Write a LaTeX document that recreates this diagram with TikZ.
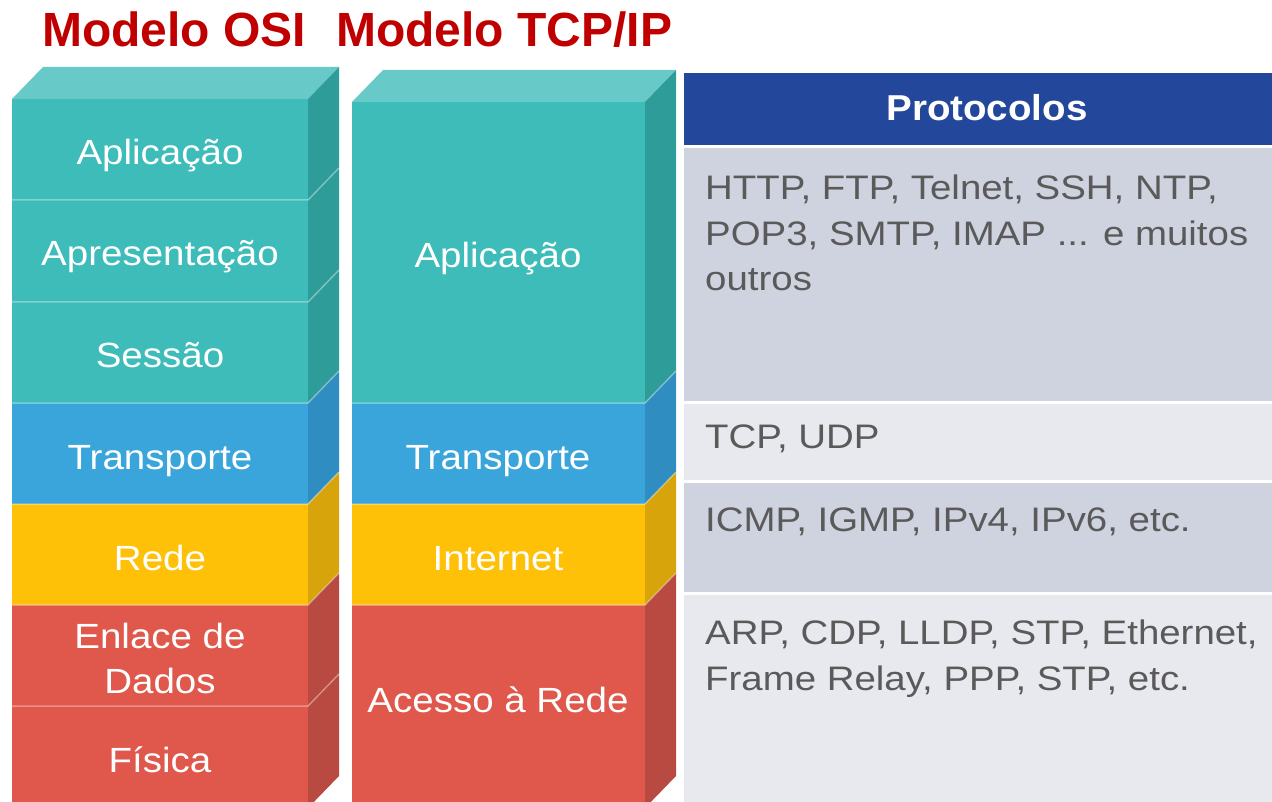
\documentclass[tikz,border=0pt]{standalone}
\usepackage{fontspec}
\setmainfont{Liberation Sans}
\newfontfamily\layerfont[FakeStretch=1.1]{Liberation Sans}
\newfontfamily\protofont[FakeStretch=1.13]{Liberation Sans}
\newfontfamily\headfont[FakeStretch=1.07]{Liberation Sans}

\definecolor{tealfront}{HTML}{3DBCBA}
\definecolor{tealtop}{HTML}{67CAC8}
\definecolor{tealside}{HTML}{2E9C99}
\definecolor{bluefront}{HTML}{3AA5DA}
\definecolor{blueside}{HTML}{2F8DC1}
\definecolor{yellowfront}{HTML}{FEC108}
\definecolor{yellowside}{HTML}{D8A40B}
\definecolor{redfront}{HTML}{E0574B}
\definecolor{redside}{HTML}{B84A42}
\definecolor{titlered}{HTML}{C00000}
\definecolor{headblue}{HTML}{23489B}
\definecolor{rowdark}{HTML}{CFD2DF}
\definecolor{rowlight}{HTML}{E8E9EE}
\definecolor{protogray}{HTML}{5A5A5A}

% depth of the 3D slabs
\def\dpx{31}
\def\dpy{32}

% one slab of a stack: left x, right x, top y, bottom y, front colour, side colour
\newcommand\stackslab[6]{%
  \fill[#5] (#1,#3) rectangle (#2,#4);
  \fill[#6] (#2,#3) -- ++(\dpx,-\dpy) -- (#2+\dpx,#4-\dpy) -- (#2,#4) -- cycle;
}
% top face of a stack: left x, right x, top y, colour
\newcommand\stacktop[4]{%
  \fill[#4] (#1,#3) -- ++(\dpx,-\dpy) -- (#2+\dpx,#3-\dpy) -- (#2,#3) -- cycle;
}
% thin light seam between two slabs: left x, right x, y
\newcommand\stackseam[3]{%
  \draw[seam] (#1,#3) -- (#2,#3) -- ++(\dpx,-\dpy);
}

\tikzset{
  seam/.style={white, opacity=0.35, line width=1.5pt},
  title/.style={text=titlered, font=\bfseries\fontsize{48}{52}\selectfont, anchor=base west, inner sep=0},
  layer/.style={text=white, font=\layerfont\fontsize{35}{45}\selectfont, anchor=base, inner sep=0, align=center},
  layertwo/.style={text=white, font=\layerfont\fontsize{35}{45}\selectfont, anchor=north, inner sep=0, align=center},
  proto/.style={text=protogray, font=\protofont\fontsize{34}{45.5}\selectfont, anchor=north west, inner sep=0, align=left},
  header/.style={text=white, font=\headfont\bfseries\fontsize{36}{40}\selectfont, anchor=base, inner sep=0},
}

\begin{document}
\begin{tikzpicture}[x=1pt, y=-1pt]
\useasboundingbox (0,0) rectangle (1272,802);
\clip (0,0) rectangle (1272,802);

% ---- titles
\node[title] (titleosi) at (42,47) {Modelo OSI};
\node[title] (titletcp) at (336,47) {Modelo TCP/IP};

% ---- OSI stack
\stacktop{12}{308}{99}{tealtop}
\stackslab{12}{308}{99}{200}{tealfront}{tealside}
\stackslab{12}{308}{200}{302}{tealfront}{tealside}
\stackslab{12}{308}{302}{403}{tealfront}{tealside}
\stackslab{12}{308}{403}{504}{bluefront}{blueside}
\stackslab{12}{308}{504}{605}{yellowfront}{yellowside}
\stackslab{12}{308}{605}{706}{redfront}{redside}
\stackslab{12}{308}{706}{808}{redfront}{redside}
\stackseam{12}{308}{200}
\stackseam{12}{308}{302}
\stackseam{12}{308}{403}
\stackseam{12}{308}{504}
\stackseam{12}{308}{605}
\stackseam{12}{308}{706}

\node[layer] (osi7) at (160,165) {Aplicação};
\node[layer] (osi6) at (160,266) {Apresentação};
\node[layer] (osi5) at (160,367) {Sessão};
\node[layer] (osi4) at (160,469) {Transporte};
\node[layer] (osi3) at (160,570) {Rede};
\node[layertwo] (osi2) at (160,623) {Enlace de\\Dados};
\node[layer] (osi1) at (160,772) {Física};

% ---- TCP/IP stack
\stacktop{352}{645}{102}{tealtop}
\stackslab{352}{645}{102}{403}{tealfront}{tealside}
\stackslab{352}{645}{403}{504}{bluefront}{blueside}
\stackslab{352}{645}{504}{605}{yellowfront}{yellowside}
\stackslab{352}{645}{605}{808}{redfront}{redside}
\stackseam{352}{645}{403}
\stackseam{352}{645}{504}
\stackseam{352}{645}{605}

\node[layer] (tcp4) at (498,268) {Aplicação};
\node[layer] (tcp3) at (498,469) {Transporte};
\node[layer] (tcp2) at (498,570) {Internet};
\node[layer] (tcp1) at (498,712) {Acesso à Rede};

% ---- protocol table
\fill[headblue] (684,73) rectangle (1272,145);
\fill[rowdark] (684,148) rectangle (1272,401);
\fill[rowlight] (684,404) rectangle (1272,480);
\fill[rowdark] (684,483) rectangle (1272,592);
\fill[rowlight] (684,595) rectangle (1272,810);

\node[header] (head) at (987,121) {Protocolos};
\node[proto] (papp) at (705,175) {HTTP, FTP, Telnet, SSH, NTP,\\POP3, SMTP, IMAP ... e muitos\\outros};
\node[proto] (ptra) at (705,425) {TCP, UDP};
\node[proto] (pint) at (705,508) {ICMP, IGMP, IPv4, IPv6, etc.};
\node[proto] (pnet) at (705,620) {ARP, CDP, LLDP, STP, Ethernet,\\Frame Relay, PPP, STP, etc.};
\end{tikzpicture}
\end{document}
